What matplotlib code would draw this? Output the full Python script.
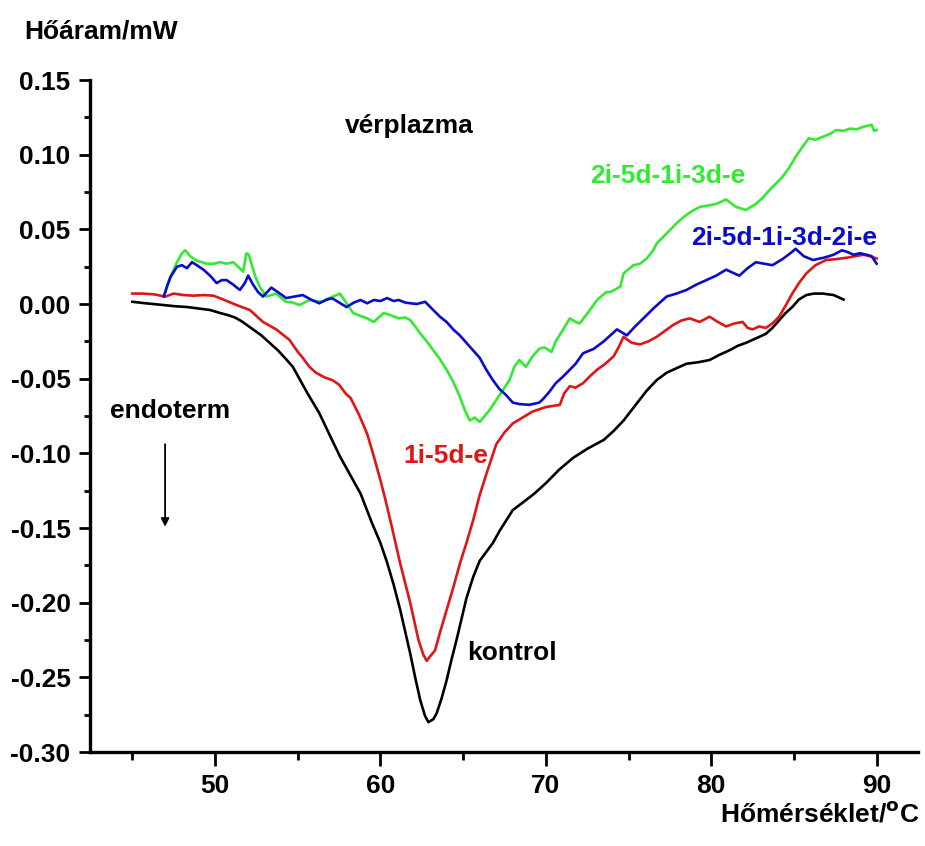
import numpy as np
import matplotlib.pyplot as plt
from matplotlib.ticker import MultipleLocator, FormatStrFormatter

plt.rcParams['font.family'] = ['Liberation Sans', 'DejaVu Sans']
plt.rcParams['font.weight'] = 'bold'

# kontrol (black)
kontrol_x = [45.0, 45.8, 46.9, 47.6, 48.3, 49.0, 49.7, 50.3, 50.8, 51.2, 51.6, 52.3, 52.8, 53.3,
             53.8, 54.3, 54.7, 55.1, 55.6, 56.3, 56.9, 57.55, 58.2, 58.8, 59.5, 60.0, 60.4, 60.8,
             61.2, 61.8, 62.1, 62.4, 62.7, 62.9, 63.2, 63.4, 63.7, 64.0, 64.3, 64.6, 65.2, 65.6,
             66.0, 66.4, 66.8, 67.2, 67.6, 68.0, 68.6, 69.3, 70.0, 70.8, 71.65, 72.5, 73.5, 74.1,
             74.7, 75.4, 76.1, 76.7, 77.3, 77.9, 78.5, 79.2, 79.9, 80.5, 81.1, 81.6, 82.1, 82.7,
             83.3, 83.7, 84.1, 84.5, 84.9, 85.3, 85.75, 86.2, 86.75, 87.4, 88.0]
kontrol_y = [0.0015, 0.0005, -0.0007, -0.0015, -0.002, -0.003, -0.004, -0.006, -0.0075, -0.009,
             -0.0115, -0.017, -0.021, -0.026, -0.031, -0.037, -0.042, -0.050, -0.060, -0.073,
             -0.087, -0.102, -0.115, -0.127, -0.147, -0.160, -0.173, -0.188, -0.205, -0.234,
             -0.250, -0.265, -0.276, -0.280, -0.278, -0.274, -0.264, -0.252, -0.238, -0.225,
             -0.197, -0.183, -0.172, -0.166, -0.160, -0.152, -0.145, -0.138, -0.133, -0.127,
             -0.120, -0.111, -0.103, -0.097, -0.091, -0.085, -0.078, -0.068, -0.058, -0.051,
             -0.046, -0.043, -0.040, -0.039, -0.0375, -0.034, -0.031, -0.028, -0.026, -0.023,
             -0.020, -0.016, -0.011, -0.006, -0.002, 0.003, 0.006, 0.007, 0.007, 0.006, 0.003]

# 1i-5d-e (red)
red_x = [45.0, 45.6, 46.3, 47.0, 47.5, 48.1, 48.7, 49.3, 49.9, 50.5, 51.3, 52.1, 52.5, 52.9, 53.7,
         54.5, 55.0, 55.3, 55.7, 56.1, 56.6, 57.1, 57.5, 57.9, 58.2, 58.7, 59.2, 59.6, 60.0, 60.3,
         60.6, 61.2, 61.8, 62.3, 62.6, 62.8, 63.0, 63.3, 63.6, 64.0, 64.4, 64.8, 65.2, 65.6, 66.0,
         66.4, 67.0, 67.5, 68.0, 68.6, 69.2, 70.0, 70.85, 71.1, 71.45, 71.8, 72.25, 72.7, 73.1,
         73.6, 74.1, 74.4, 74.7, 75.2, 75.7, 76.2, 76.7, 77.2, 77.7, 78.2, 78.7, 79.3, 79.9, 80.4,
         80.9, 81.4, 81.9, 82.2, 82.5, 82.9, 83.3, 83.7, 84.1, 84.5, 84.9, 85.3, 85.75, 86.3,
         86.95, 87.5, 88.2, 88.7, 89.2, 89.6, 90.0]
red_y = [0.007, 0.007, 0.0065, 0.005, 0.007, 0.006, 0.0056, 0.006, 0.0056, 0.003, -0.0007, -0.004,
         -0.008, -0.012, -0.017, -0.024, -0.032, -0.036, -0.042, -0.046, -0.049, -0.051, -0.054,
         -0.060, -0.063, -0.074, -0.087, -0.102, -0.118, -0.131, -0.145, -0.174, -0.200, -0.225,
         -0.235, -0.239, -0.236, -0.232, -0.220, -0.205, -0.190, -0.174, -0.160, -0.145, -0.128,
         -0.114, -0.094, -0.086, -0.080, -0.076, -0.072, -0.069, -0.0675, -0.060, -0.055, -0.056,
         -0.053, -0.048, -0.044, -0.040, -0.035, -0.029, -0.022, -0.026, -0.027, -0.025, -0.022,
         -0.018, -0.014, -0.011, -0.0096, -0.012, -0.0085, -0.012, -0.015, -0.013, -0.012, -0.016,
         -0.017, -0.015, -0.016, -0.013, -0.0085, -0.001, 0.007, 0.014, 0.0205, 0.026, 0.0295,
         0.030, 0.031, 0.032, 0.033, 0.032, 0.0305]

# 2i-5d-1i-3d-2i-e (blue)
blue_x = [46.9, 47.1, 47.3, 47.7, 48.0, 48.3, 48.6, 48.9, 49.3, 49.7, 50.1, 50.4, 50.7, 51.1, 51.5,
          51.8, 52.0, 52.3, 52.6, 52.9, 53.4, 53.8, 54.3, 54.8, 55.3, 55.8, 56.3, 56.75, 57.1, 57.5,
          57.95, 58.4, 58.8, 59.2, 59.6, 60.0, 60.4, 60.8, 61.1, 61.5, 61.8, 62.2, 62.7, 63.1, 63.6,
          64.0, 64.4, 64.8, 65.2, 65.6, 66.0, 66.4, 66.8, 67.2, 67.6, 68.0, 68.4, 69.0, 69.6, 69.8,
          70.2, 70.6, 71.0, 71.45, 71.8, 72.25, 72.9, 73.5, 73.9, 74.3, 74.6, 74.9, 75.4, 75.9,
          76.5, 76.9, 77.3, 77.9, 78.5, 79.1, 79.7, 80.3, 80.9, 81.3, 81.7, 82.2, 82.7, 83.2, 83.7,
          84.3, 84.9, 85.1, 85.6, 86.15, 86.8, 87.4, 87.9, 88.2, 88.6, 89.0, 89.4, 89.7, 90.0]
blue_y = [0.005, 0.012, 0.018, 0.025, 0.026, 0.024, 0.028, 0.026, 0.023, 0.019, 0.014, 0.016, 0.016,
          0.013, 0.0094, 0.014, 0.019, 0.013, 0.008, 0.005, 0.011, 0.008, 0.004, 0.005, 0.006, 0.003,
          0.0005, 0.003, 0.0038, 0.001, -0.002, 0.001, 0.0027, 0.0005, 0.0027, 0.002, 0.004, 0.002,
          0.0027, 0.001, 0.0005, 0.000, 0.0015, -0.003, -0.0085, -0.012, -0.017, -0.021, -0.026,
          -0.031, -0.036, -0.044, -0.051, -0.057, -0.061, -0.066, -0.067, -0.0675, -0.066, -0.064,
          -0.059, -0.053, -0.049, -0.044, -0.040, -0.033, -0.030, -0.025, -0.021, -0.017, -0.019,
          -0.021, -0.015, -0.0096, -0.003, 0.001, 0.005, 0.007, 0.0094, 0.013, 0.016, 0.019, 0.023,
          0.021, 0.019, 0.024, 0.028, 0.027, 0.026, 0.030, 0.035, 0.037, 0.032, 0.0295, 0.031, 0.033,
          0.036, 0.035, 0.033, 0.034, 0.033, 0.032, 0.027]

# 2i-5d-1i-3d-e (green)
green_x = [47.0, 47.3, 47.7, 48.0, 48.2, 48.5, 48.9, 49.5, 49.9, 50.3, 50.7, 51.1, 51.4, 51.7, 51.9,
           52.05, 52.2, 52.45, 52.7, 53.1, 53.4, 53.7, 54.0, 54.3, 54.7, 55.1, 55.4, 55.7, 56.1, 56.5,
           56.9, 57.35, 57.55, 57.95, 58.35, 58.8, 59.2, 59.6, 60.2, 60.6, 61.1, 61.5, 61.8, 62.1,
           62.4, 62.8, 63.2, 63.6, 64.0, 64.4, 64.8, 65.1, 65.4, 65.7, 66.0, 66.3, 66.6, 66.9, 67.2,
           67.5, 67.8, 68.1, 68.4, 68.8, 69.2, 69.6, 69.9, 70.35, 70.6, 71.0, 71.45, 71.8, 72.05,
           72.6, 73.1, 73.65, 73.9, 74.5, 74.7, 75.3, 75.7, 76.1, 76.5, 76.7, 77.1, 77.5, 77.9, 78.3,
           78.8, 79.3, 79.8, 80.3, 80.9, 81.5, 82.1, 82.7, 83.1, 83.5, 84.3, 84.7, 85.1, 85.5, 85.9,
           86.3, 86.75, 87.2, 87.55, 88.0, 88.4, 88.8, 89.2, 89.7, 89.85, 90.0]
green_y = [0.008, 0.018, 0.028, 0.034, 0.036, 0.032, 0.029, 0.027, 0.027, 0.028, 0.027, 0.028, 0.025,
           0.0216, 0.034, 0.033, 0.027, 0.018, 0.0116, 0.005, 0.006, 0.007, 0.004, 0.0015, 0.001,
           -0.0007, 0.001, 0.0027, 0.002, 0.0015, 0.004, 0.006, 0.007, 0.0005, -0.006, -0.008,
           -0.0096, -0.012, -0.006, -0.0074, -0.0096, -0.009, -0.0107, -0.015, -0.0196, -0.025,
           -0.031, -0.037, -0.044, -0.052, -0.062, -0.071, -0.078, -0.076, -0.079, -0.075, -0.071,
           -0.066, -0.061, -0.056, -0.051, -0.042, -0.0375, -0.042, -0.035, -0.030, -0.029, -0.032,
           -0.025, -0.018, -0.0096, -0.012, -0.013, -0.005, 0.0027, 0.008, 0.008, 0.0116, 0.0205,
           0.026, 0.027, 0.0305, 0.036, 0.0405, 0.045, 0.0495, 0.054, 0.058, 0.062, 0.065, 0.066,
           0.067, 0.070, 0.065, 0.063, 0.067, 0.071, 0.076, 0.085, 0.091, 0.0985, 0.105, 0.111,
           0.110, 0.112, 0.114, 0.1165, 0.116, 0.1175, 0.117, 0.1187, 0.12, 0.116, 0.1165]

fig = plt.figure(figsize=(9.25, 8.46), dpi=100)
ax = fig.add_axes([0.0973, 0.1111, 0.8951, 0.7943])

lw = 1.9
ax.plot(kontrol_x, kontrol_y, color='black', lw=lw)
ax.plot(red_x, red_y, color='#e01515', lw=lw)
ax.plot(green_x, green_y, color='#33ea33', lw=lw)
ax.plot(blue_x, blue_y, color='#0b0bcc', lw=lw)

ax.set_xlim(42.44, 92.5)
ax.set_ylim(-0.30, 0.15)

for side in ['top', 'right']:
    ax.spines[side].set_visible(False)
for side in ['left', 'bottom']:
    ax.spines[side].set_linewidth(2.4)

ax.xaxis.set_major_locator(MultipleLocator(10))
ax.xaxis.set_minor_locator(MultipleLocator(5))
ax.yaxis.set_major_locator(MultipleLocator(0.05))
ax.yaxis.set_minor_locator(MultipleLocator(0.025))
ax.yaxis.set_major_formatter(FormatStrFormatter('%.2f'))

ax.tick_params(axis='x', which='major', direction='out', length=10, width=2, pad=6, labelsize=19)
ax.tick_params(axis='x', which='minor', direction='out', length=6, width=2)
ax.tick_params(axis='y', which='major', direction='out', length=8, width=2, pad=6, labelsize=19)
ax.tick_params(axis='y', which='minor', direction='out', length=4, width=2)
for lab in ax.get_xticklabels() + ax.get_yticklabels():
    lab.set_fontweight('bold')

fs = 19
ax.text(57.86, 0.1145, 'vérplazma', color='black', fontsize=fs, fontweight='bold')
ax.text(72.67, 0.0808, '2i-5d-1i-3d-e', color='#33ea33', fontsize=fs, fontweight='bold')
ax.text(78.8, 0.0395, '2i-5d-1i-3d-2i-e', color='#0b0bcc', fontsize=fs, fontweight='bold')
ax.text(61.37, -0.1067, '1i-5d-e', color='#e01515', fontsize=fs, fontweight='bold')
ax.text(65.24, -0.2384, 'kontrol', color='black', fontsize=fs, fontweight='bold')
ax.text(43.65, -0.0766, 'endoterm', color='black', fontsize=fs, fontweight='bold')

ax.annotate('', xy=(46.98, -0.151), xytext=(46.98, -0.092),
            arrowprops=dict(arrowstyle='-|>', color='black', lw=1.3, mutation_scale=12))

fig.text(0.026, 0.955, 'Hőáram/mW', fontsize=fs, fontweight='bold', ha='left', va='baseline')
fig.text(0.9946, 0.0284, r'Hőmérséklet/$\mathbf{^{o}}$C', fontsize=fs, fontweight='bold',
         ha='right', va='baseline')

fig.savefig('out.png', dpi=100)
